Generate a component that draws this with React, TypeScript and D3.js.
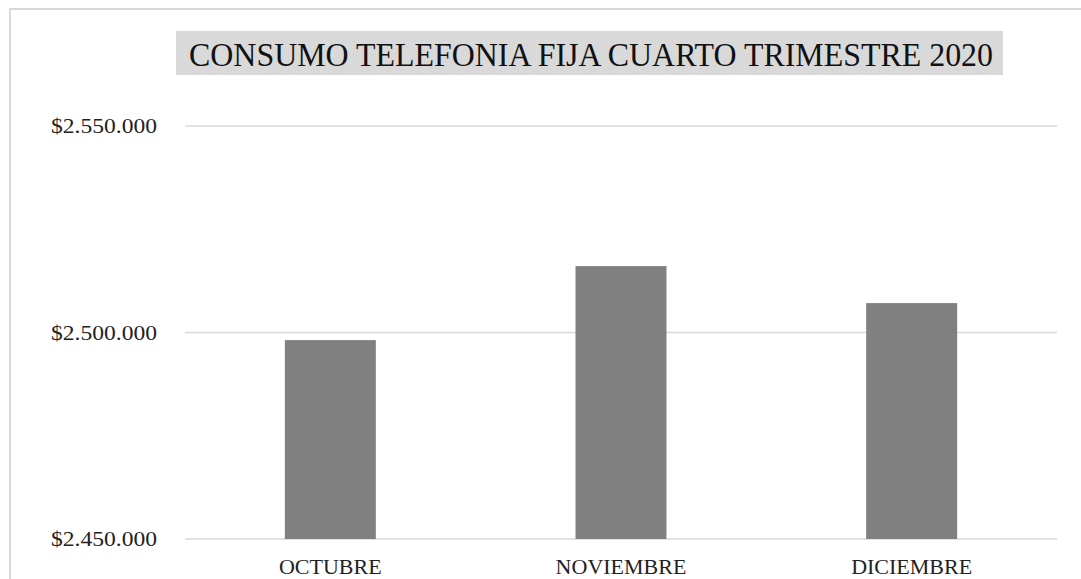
import React from "react";
import * as d3 from "d3";

const categories = ["OCTUBRE", "NOVIEMBRE", "DICIEMBRE"];
const values = [2498160, 2516080, 2507120];
const yTicks = [2450000, 2500000, 2550000];
const title = "CONSUMO TELEFONIA FIJA CUARTO TRIMESTRE 2020";

const W = 1081;
const H = 579;
const plot = { left: 185, right: 1057, top: 126, bottom: 539 };

const fmt = (v: number) =>
  "$" + String(v).replace(/\B(?=(\d{3})+(?!\d))/g, ".");

export default function App() {
  const x = d3
    .scaleBand<string>()
    .domain(categories)
    .range([plot.left, plot.right])
    .paddingInner(0.687)
    .paddingOuter(0.3435);
  const y = d3
    .scaleLinear()
    .domain([2450000, 2550000])
    .range([plot.bottom, plot.top]);
  const fontStyle = { fontFamily: "'Liberation Serif', 'Times New Roman', serif" };
  return (
    <svg
      width={W}
      height={H}
      style={{ position: "absolute", left: 0, top: 0, background: "#fff" }}
    >
      <rect x={10} y={9} width={W} height={H} fill="#fff" stroke="#d9d9d9" strokeWidth={2} />
      <rect x={176} y={31} width={827} height={44} fill="#d9d9d9" />
      <text
        x={591}
        y={66}
        textAnchor="middle"
        fontSize={34}
        fill="#111"
        textLength={804}
        lengthAdjust="spacingAndGlyphs"
        style={fontStyle}
      >
        {title}
      </text>
      {yTicks.map((t) => (
        <g key={t}>
          <line
            x1={plot.left}
            x2={plot.right}
            y1={y(t)}
            y2={y(t)}
            stroke="#d9d9d9"
            strokeWidth={1.5}
          />
          <text
            x={157}
            y={y(t) + 7}
            textAnchor="end"
            fontSize={22}
            fill="#222"
            textLength={106}
            lengthAdjust="spacingAndGlyphs"
            style={fontStyle}
          >
            {fmt(t)}
          </text>
        </g>
      ))}
      {categories.map((c, i) => (
        <rect
          key={c}
          x={x(c)}
          y={y(values[i])}
          width={x.bandwidth()}
          height={y(2450000) - y(values[i])}
          fill="#808080"
        />
      ))}
      {categories.map((c) => (
        <text
          key={c}
          x={(x(c) as number) + x.bandwidth() / 2}
          y={574}
          textAnchor="middle"
          fontSize={22}
          fill="#222"
          style={fontStyle}
        >
          {c}
        </text>
      ))}
    </svg>
  );
}
